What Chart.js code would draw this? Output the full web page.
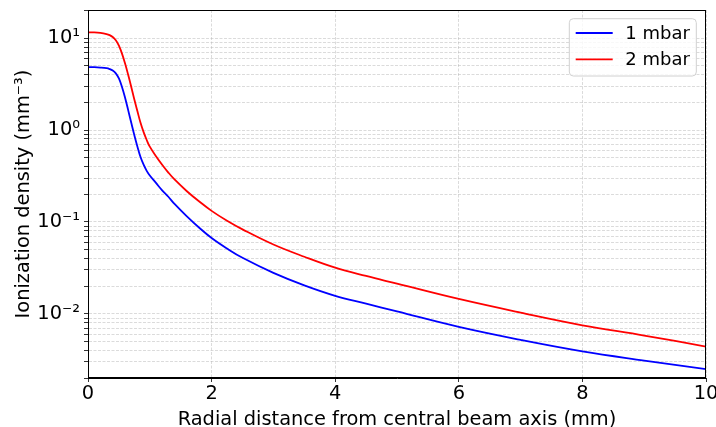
<!DOCTYPE html>
<html>
<head>
<meta charset="utf-8">
<script src="https://cdn.jsdelivr.net/npm/chart.js@4.4.1/dist/chart.umd.min.js"></script>
<style>
  body { margin: 0; background: #fff; }
  canvas { display: block; }
</style>
</head>
<body>
<canvas id="mycanvas" width="716" height="427"></canvas>
<script>
// values
var radialDistance = [0, 0.1, 0.2, 0.3, 0.35, 0.4, 0.45, 0.5, 0.55, 0.6, 0.65, 0.7, 0.75, 0.8, 0.85, 0.9, 0.95, 1.0,
    1.1, 1.2, 1.3, 1.4, 1.6, 1.8, 2.0, 2.25, 2.5, 3.0, 3.5, 4, 4.5, 5, 6, 7, 8, 9, 10];

var density1mbar = [4.85, 4.84, 4.8, 4.72, 4.62, 4.45, 4.15, 3.65, 2.95, 2.25, 1.65, 1.2, 0.88, 0.66, 0.51, 0.42, 0.36, 0.32,
    0.266, 0.221, 0.188, 0.157, 0.115, 0.0865, 0.0668, 0.0513, 0.0407, 0.0279, 0.0204, 0.0157, 0.0129, 0.0106,
    0.0072, 0.0052, 0.0039, 0.0031, 0.0025];

var density2mbar = [11.6, 11.6, 11.45, 11.1, 10.8, 10.3, 9.5, 8.3, 6.8, 5.3, 4.0, 2.95, 2.15, 1.6, 1.2, 0.95, 0.78, 0.66,
    0.52, 0.42, 0.345, 0.29, 0.216, 0.167, 0.132, 0.103, 0.083, 0.0568, 0.0418, 0.0318, 0.0258, 0.0213,
    0.0145, 0.0103, 0.0075, 0.0058, 0.0044];

var seriesLabels = ["1 mbar", "2 mbar"];
var xTicks = [0, 2, 4, 6, 8, 10];
var yDecades = [0.01, 0.1, 1, 10];
var yDecadeLabels = ["10\u207B\u00B2", "10\u207B\u00B9", "10\u2070", "10\u00B9"];

var yMin = 0.002, yMax = 20.3;

// major + minor log ticks
var yTicks = [];
for (var e = -3; e <= 1; e++) {
    for (var m = 1; m <= 9; m++) {
        var v = parseFloat((m * Math.pow(10, e)).toPrecision(3));
        if (v >= yMin && v <= yMax) yTicks.push(v);
    }
}

function toPoints(ys) {
    return radialDistance.map(function(x, i) { return {x: x, y: ys[i]}; });
}

var fontFamily = "'DejaVu Sans', sans-serif";
var gridColor = "rgba(180,180,180,0.6)";

var frameAndLegend = {
    id: "frameAndLegend",
    afterDraw: function(chart) {
        var ctx = chart.ctx, a = chart.chartArea;
        ctx.save();
        ctx.strokeStyle = "#000";
        ctx.lineWidth = 1;
        ctx.strokeRect(Math.round(a.left) + 0.5, Math.round(a.top) + 0.5,
            Math.round(a.right - a.left) - 1, Math.round(a.bottom - a.top) - 1);

        var w = 127, h = 57.3;
        var x = a.right - 136.7, y = a.top + 8.7;
        ctx.beginPath();
        ctx.roundRect(x, y, w, h, 4);
        ctx.fillStyle = "rgba(255,255,255,0.8)";
        ctx.fill();
        ctx.strokeStyle = "#d0d0d0";
        ctx.stroke();

        ctx.font = "18px " + fontFamily;
        ctx.textBaseline = "middle";
        chart.data.datasets.forEach(function(ds, i) {
            var ly = y + 14.3 + i * 26.3;
            ctx.beginPath();
            ctx.moveTo(x + 6.4, ly);
            ctx.lineTo(x + 43.4, ly);
            ctx.strokeStyle = ds.borderColor;
            ctx.lineWidth = ds.borderWidth;
            ctx.stroke();
            ctx.fillStyle = "#000";
            ctx.fillText(ds.label, x + 56, ly + 1);
        });
        ctx.restore();
    }
};

var ctx = document.getElementById("mycanvas");

var chart = new Chart(ctx, {
    type: "line",
    data: {
        datasets: [
            {
                label: seriesLabels[0],
                data: toPoints(density1mbar),
                borderColor: "#0000ff",
                borderWidth: 1.8,
                pointRadius: 0,
                fill: false,
                tension: 0.4
            },
            {
                label: seriesLabels[1],
                data: toPoints(density2mbar),
                borderColor: "#ff0000",
                borderWidth: 1.8,
                pointRadius: 0,
                fill: false,
                tension: 0.4
            }
        ]
    },
    options: {
        responsive: false,
        animation: false,
        layout: { padding: { top: 10, right: 10, left: 0, bottom: 0 } },
        plugins: {
            legend: { display: false },
            tooltip: { enabled: false }
        },
        scales: {
            x: {
                type: "linear",
                min: 0,
                max: 10,
                afterBuildTicks: function(scale) {
                    scale.ticks = xTicks.map(function(v) { return {value: v}; });
                },
                afterFit: function(scale) {
                    scale.height = 49;
                    scale.paddingLeft = 0;
                    scale.paddingRight = 0;
                },
                ticks: {
                    color: "#000",
                    padding: 2,
                    maxRotation: 0,
                    font: { family: fontFamily, size: 19.4, lineHeight: 1.0 }
                },
                grid: { color: gridColor, lineWidth: 0.8, tickColor: "#000", tickLength: 4 },
                border: { display: true, color: "#000", width: 1, dash: [3, 1.5] },
                title: {
                    display: true,
                    text: "Radial distance from central beam axis (mm)",
                    color: "#000",
                    padding: 0,
                    font: { family: fontFamily, size: 19.4, lineHeight: 0.7 }
                }
            },
            y: {
                type: "logarithmic",
                min: yMin,
                max: yMax,
                afterBuildTicks: function(scale) {
                    scale.ticks = yTicks.map(function(v) {
                        return {value: v, major: yDecades.indexOf(v) >= 0};
                    });
                },
                afterFit: function(scale) {
                    scale.width = 88;
                    scale.paddingTop = 0;
                    scale.paddingBottom = 0;
                },
                ticks: {
                    autoSkip: false,
                    color: "#000",
                    padding: 4,
                    font: { family: fontFamily, size: 19.4 },
                    callback: function(value) {
                        var k = yDecades.indexOf(value);
                        return k >= 0 ? yDecadeLabels[k] : "";
                    }
                },
                grid: { color: gridColor, lineWidth: 0.8, tickColor: "#000", tickLength: 4 },
                border: { display: true, color: "#000", width: 1, dash: [3, 1.5] },
                title: {
                    display: true,
                    text: "Ionization density (mm\u207B\u00B3)",
                    color: "#000",
                    padding: { top: 12, bottom: 0 },
                    font: { family: fontFamily, size: 19.4 }
                }
            }
        }
    },
    plugins: [frameAndLegend]
});
</script>
</body>
</html>
